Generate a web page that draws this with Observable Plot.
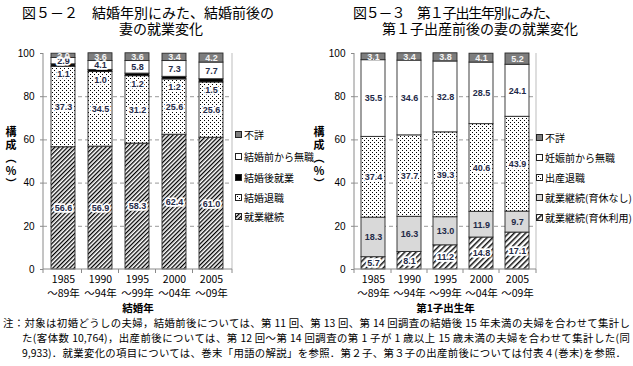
<!DOCTYPE html>
<html><head><meta charset="utf-8">
<script src="https://cdn.jsdelivr.net/npm/d3@7"></script>
<script src="https://cdn.jsdelivr.net/npm/@observablehq/plot@0.6"></script>
<style>
body{margin:0;background:#fff;}
#root{position:relative;width:633px;height:366px;overflow:hidden;font-family:"Noto Sans CJK JP","Noto Sans",sans-serif;color:#000;}
.abs{position:absolute;white-space:nowrap;}
.title{font-size:14px;line-height:14px;}
.leg{font-size:10px;line-height:12px;display:flex;align-items:center;}
.leg svg{margin-right:1px;}
.ytitle{writing-mode:vertical-rl;text-orientation:upright;font-size:11px;letter-spacing:2px;font-weight:bold;}
.note{font-size:10.4px;line-height:14px;text-align:justify;text-align-last:justify;}
.plotbox{position:absolute;}
</style></head><body>
<svg width="0" height="0" style="position:absolute">
<defs>
<pattern id="hatchL" width="3" height="3" patternUnits="userSpaceOnUse" patternTransform="rotate(45)">
<rect width="3" height="3" fill="#fff"/><rect width="1.3" height="3" fill="#000"/>
</pattern>
<pattern id="hatchR" width="4" height="4" patternUnits="userSpaceOnUse" patternTransform="rotate(45)">
<rect width="4" height="4" fill="#fff"/><rect width="1.5" height="4" fill="#111"/>
</pattern>
<pattern id="dots" width="4" height="4" patternUnits="userSpaceOnUse">
<rect width="4" height="4" fill="#fff"/><rect x="0" y="0" width="1" height="1" fill="#000"/><rect x="2" y="2" width="1" height="1" fill="#000"/>
</pattern>
</defs>
</svg>
<div id="root"></div>
<script>
// ---- data ----
const years = ["1985","1990","1995","2000","2005"];
const yearEnds = ["89","94","99","04","09"];

const leftSeries = ["就業継続","結婚退職","結婚後就業","結婚前から無職","不詳"];
const leftKeizoku   = [56.6, 56.9, 58.3, 62.4, 61.0];
const leftTaishoku  = [37.3, 34.5, 31.2, 25.6, 25.6];
const leftKongo     = [1.1, 1.0, 1.2, 1.2, 1.5];
const leftMushoku   = [2.9, 4.1, 5.8, 7.3, 7.7];
const leftFusho     = [2.0, 3.6, 3.6, 3.4, 4.2];

const rightSeries = ["就業継続(育休利用)","就業継続(育休なし)","出産退職","妊娠前から無職","不詳"];
const rightIkukyu   = [5.7, 8.1, 11.2, 14.8, 17.1];
const rightNashi    = [18.3, 16.3, 13.0, 11.9, 9.7];
const rightTaishoku = [37.4, 37.7, 39.3, 40.6, 43.9];
const rightMushoku  = [35.5, 34.6, 32.8, 28.5, 24.1];
const rightFusho    = [3.1, 3.4, 3.8, 4.1, 5.2];

const yTicks = [0, 20, 40, 60, 80, 100];
const gridTicks = [20, 40, 60, 80];

const leftFills  = ["url(#hatchL)", "url(#dots)", "#000", "#fff", "#7d7d7d"];
const rightFills = ["url(#hatchR)", "#d9d9d9", "url(#dots)", "#fff", "#7d7d7d"];

function table(seriesNames, arrays) {
  const rows = [];
  seriesNames.forEach((s, i) => years.forEach((y, j) => rows.push({series: s, year: y, value: arrays[i][j]})));
  return rows;
}
const leftData = table(leftSeries, [leftKeizoku, leftTaishoku, leftKongo, leftMushoku, leftFusho]);
const rightData = table(rightSeries, [rightIkukyu, rightNashi, rightTaishoku, rightMushoku, rightFusho]);

const labelColor = "#1f2a48";
const font = "'Noto Sans CJK JP', sans-serif";

function labels(data, set, opts) {
  return Plot.text(data, Plot.stackY({
    x: "year", y: "value",
    text: d => set.includes(d.series) ? d.value.toFixed(1) : null,
    fontSize: 9, fontWeight: "bold", fontFamily: "'Liberation Sans', sans-serif",
    ...opts
  }));
}

function frameLines(index, scales, values, dim) {
  const g = d3.create("svg:g");
  const x0 = dim.marginLeft, x1 = dim.width - dim.marginRight;
  const y0 = dim.marginTop, y1 = dim.height - dim.marginBottom;
  g.append("line").attr("x1", x1).attr("x2", x1).attr("y1", y0).attr("y2", y1).attr("stroke", "#bdbdbd");
  g.append("line").attr("x1", x0).attr("x2", x0).attr("y1", y0).attr("y2", y1).attr("stroke", "#8a8a8a");
  g.append("line").attr("x1", x0).attr("x2", x1).attr("y1", y1).attr("y2", y1).attr("stroke", "#8a8a8a");
  const x = scales.x;
  const bw = x.bandwidth ? x.bandwidth() : 0;
  const bounds = [x0, x1];
  for (let i = 0; i < years.length - 1; i++) bounds.push((x(years[i]) + bw + x(years[i + 1])) / 2);
  bounds.forEach(b => g.append("line").attr("x1", b).attr("x2", b).attr("y1", y1).attr("y2", y1 + 4).attr("stroke", "#8a8a8a"));
  return g.node();
}

function makePlot({data, series, fills, width, marginLeft, marginRight, xTitle, haloSets, plainSets, belowSets, whiteSets}) {
  return Plot.plot({
    width, height: 276,
    marginLeft, marginRight, marginTop: 13, marginBottom: 47,
    x: {domain: years, paddingInner: 0.34, paddingOuter: 0.19, axis: null},
    y: {domain: [0, 100], axis: null},
    color: {domain: series, range: fills},
    style: {fontFamily: font, fontSize: "10px", background: "transparent", overflow: "visible", color: "#000"},
    marks: [
      Plot.gridY(gridTicks, {stroke: "#9a9a9a", strokeOpacity: 1, strokeDasharray: "4,3"}),
      Plot.barY(data, {x: "year", y: "value", fill: "series", stroke: "#2a2a2a", strokeWidth: 0.9}),
      frameLines,
      Plot.axisY({ticks: yTicks, label: null, tickSize: 3, tickPadding: 6, fontSize: 10, fontFamily: "'Liberation Sans', sans-serif", stroke: "#8a8a8a"}),
      labels(data, haloSets, {fill: labelColor, stroke: "#fff", strokeWidth: 3.5}),
      labels(data, belowSets, {fill: labelColor, stroke: "#fff", strokeWidth: 3, dy: 9}),
      labels(data, plainSets, {fill: labelColor}),
      labels(data, whiteSets, {fill: "#f4f4f4"}),
      Plot.text(years, {x: d => d, text: (d, i) => `${d}\n～${yearEnds[i]}年`, frameAnchor: "bottom", lineAnchor: "top", dy: 4, lineHeight: 1.3, fontSize: 10.5, letterSpacing: "1px"}),
      Plot.text([xTitle], {text: d => d, frameAnchor: "bottom", lineAnchor: "top", dy: 35, fontSize: 10.5, fontWeight: "bold"})
    ]
  });
}

const root = document.getElementById("root");
function addDiv(cls, text, left, top, extra) {
  const d = document.createElement("div");
  d.className = "abs " + cls;
  d.textContent = text;
  d.style.left = left + "px"; d.style.top = top + "px";
  if (extra) Object.assign(d.style, extra);
  root.appendChild(d);
  return d;
}

// titles
addDiv("title", "図５－２　結婚年別にみた、結婚前後の", 22, 5);
addDiv("title", "妻の就業変化", 119, 21);
addDiv("title", "図５－３　第１子出生年別にみた、", 353, 5, {letterSpacing: "-1.2px"});
addDiv("title", "第１子出産前後の妻の就業変化", 382, 21);

// plots
const lp = makePlot({data: leftData, series: leftSeries, fills: leftFills, width: 316, marginLeft: 43, marginRight: 84,
  xTitle: "結婚年",
  haloSets: ["就業継続", "結婚退職", "結婚前から無職"], belowSets: ["結婚後就業"], plainSets: [], whiteSets: ["不詳"]});
const lbox = document.createElement("div"); lbox.className = "plotbox"; lbox.style.left = "0px"; lbox.style.top = "40px";
lbox.appendChild(lp); root.appendChild(lbox);

const rp = makePlot({data: rightData, series: rightSeries, fills: rightFills, width: 317, marginLeft: 38, marginRight: 97,
  xTitle: "第1子出生年",
  haloSets: ["就業継続(育休利用)", "出産退職"], belowSets: [], plainSets: ["就業継続(育休なし)", "妊娠前から無職"], whiteSets: ["不詳"]});
const rbox = document.createElement("div"); rbox.className = "plotbox"; rbox.style.left = "316px"; rbox.style.top = "40px";
rbox.appendChild(rp); root.appendChild(rbox);

// y titles
addDiv("ytitle", "構成（％）", 3, 126);
addDiv("ytitle", "構成（％）", 311, 126);

// legends (top to bottom)
function legend(series, fills, left, tops) {
  for (let i = series.length - 1, k = 0; i >= 0; i--, k++) {
    const d = document.createElement("div");
    d.className = "abs leg";
    d.style.left = left + "px"; d.style.top = (tops[k] - 6) + "px";
    d.innerHTML = `<svg width="8" height="8"><rect x="0.5" y="0.5" width="6" height="6" fill="${fills[i]}" stroke="#222"/></svg><span>${series[i]}</span>`;
    root.appendChild(d);
  }
}
legend(leftSeries, leftFills, 235, [135, 157, 178, 198, 217]);
legend(rightSeries, rightFills, 536, [138, 158, 178, 198, 218]);

// note
addDiv("note", "注：対象は初婚どうしの夫婦，結婚前後については、第 11 回、第 13 回、第 14 回調査の結婚後 15 年未満の夫婦を合わせて集計し", 3, 316, {width: "627px"});
addDiv("note", "た(客体数 10,764)，出産前後については、第 12 回～第 14 回調査の第 1 子が 1 歳以上 15 歳未満の夫婦を合わせて集計した(同", 22, 331, {width: "608px"});
addDiv("note", "9,933)．就業変化の項目については、巻末「用語の解説」を参照．第２子、第３子の出産前後については付表４(巻末)を参照．", 22, 346, {width: "604px"});
</script>
</body></html>
